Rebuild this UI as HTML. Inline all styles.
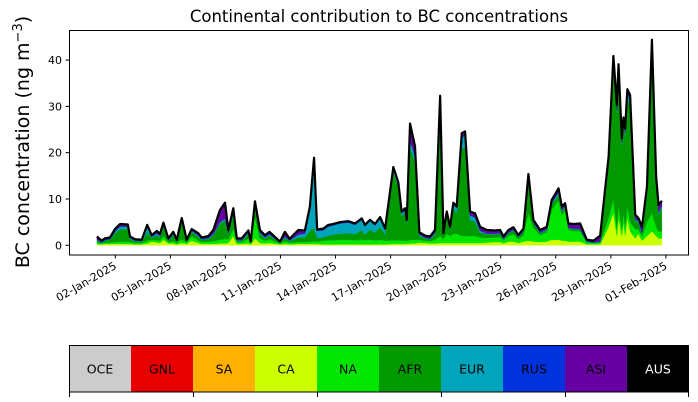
<!DOCTYPE html>
<html><head><meta charset="utf-8"><style>
body{margin:0;background:#fff;}
svg{display:block;font-family:"DejaVu Sans","Liberation Sans",sans-serif;}
</style></head><body>
<svg id="chart" width="698" height="402" viewBox="0 0 698 402">
<text x="379" y="22" font-size="16.5" text-anchor="middle">Continental contribution to BC concentrations</text>
<text transform="translate(29,142) rotate(-90)" font-size="19" text-anchor="middle">BC concentration (ng m<tspan dy="-7" font-size="13">−3</tspan><tspan dy="7">)</tspan></text>
<g id="areas"></g>
<g id="xaxis"></g>
<g id="yaxis"></g>
<rect x="69.5" y="30.5" width="619" height="224.5" fill="none" stroke="#000" stroke-width="1"/>
<g id="legend"></g>
</svg>
<script>
const days=[1.0,1.25,1.44,1.71,2.0,2.26,2.68,2.8,3.07,3.44,3.74,3.98,4.26,4.44,4.62,4.89,5.16,5.35,5.62,5.89,6.16,6.52,6.7,7.07,7.34,7.7,7.98,8.16,8.43,8.62,8.89,9.25,9.38,9.61,9.88,10.15,10.4,10.97,11.24,11.5,11.97,12.33,12.6,12.83,13.0,13.33,13.6,13.88,14.24,14.7,15.06,15.43,15.6,15.88,16.15,16.43,16.7,17.15,17.42,17.6,17.79,17.88,18.06,18.33,18.57,18.88,19.15,19.42,19.7,19.88,20.06,20.24,20.42,20.6,20.88,21.06,21.33,21.6,21.88,22.24,22.7,22.97,23.15,23.42,23.69,23.96,24.24,24.51,24.78,25.15,25.51,25.78,26.15,26.33,26.51,26.69,26.97,27.33,27.69,28.06,28.42,28.88,29.14,29.33,29.42,29.6,29.69,29.78,29.9,30.05,30.33,30.5,30.7,30.97,31.24,31.47,31.6,31.78];
const ca=[.3,.2,.3,.3,.3,.3,.3,.3,.2,.2,.4,.8,.6,.5,1.2,.4,.4,.2,.5,.3,1.0,.5,.3,.3,.3,.4,.4,.5,2.0,.3,.3,.4,.2,1.5,.5,.4,.5,.2,.3,.2,.3,.3,.3,.3,.3,.2,.2,.2,.2,.2,.2,.2,.2,.2,.2,.2,.2,.3,.3,.3,.3,.3,.4,.4,.6,.5,.4,.4,.5,.5,.5,.5,.5,.5,.5,.5,.5,.5,.5,.6,.7,.7,.4,.8,.8,.5,.8,1.0,.8,.7,.8,1.2,1.2,1.0,1.0,.8,.8,.8,.2,.2,.2,4.0,7.0,2.0,6.0,2.0,5.0,2.0,6.0,3.0,1.5,2.5,1.0,2.0,3.0,2.0,1.5,1.5];
const na=[.3,.2,.3,.3,.4,.5,.5,.4,.3,.3,.6,.4,.5,.5,.8,.3,.5,.3,.8,.3,1.0,.6,.4,.5,.6,.8,1.0,.8,1.5,.4,.4,1.0,.2,4.5,1.0,.6,.8,.2,.6,.4,.4,.4,.5,.6,.5,.8,.9,.9,1.0,1.0,.9,1.0,.9,1.0,.9,1.0,.8,.8,.8,.7,.7,.6,.8,.8,.6,.5,.5,.8,1.5,.8,2.0,1.5,2.0,2.0,1.5,1.5,1.5,1.5,1.2,1.0,1.0,1.1,.6,1.2,1.6,.8,1.4,6.0,3.0,1.5,2.0,6.5,8.5,5.5,6.5,2.5,2.3,2.2,.4,.3,.3,2.0,3.0,1.5,2.5,1.5,2.0,2.0,2.5,2.0,2.0,1.0,1.0,3.0,4.0,2.0,1.5,1.5];
const afr=[.5,.1,.4,.6,2.0,2.7,2.7,.6,.4,.3,1.8,.4,1.1,.8,2.0,.3,1.3,.3,3.7,.2,.9,.8,.5,.6,1.3,3.5,4.0,1.1,3.3,.3,.3,1.1,.1,2.6,1.0,.5,.8,.1,.7,.3,1.0,1.0,2.3,2.9,.8,.7,1.0,1.2,1.3,1.4,1.3,2.1,1.2,2.2,1.6,2.8,1.3,14.6,11.5,5.4,6.1,3.7,19.9,16.8,.9,.5,.4,1.3,29.4,.9,4.1,1.4,5.3,4.5,18.8,19.2,3.4,3.2,1.1,.8,.7,.7,.3,.6,.8,.4,.7,7.6,1.0,.4,.5,1.2,1.2,.8,.8,.4,.4,.4,.1,.1,.2,11.6,29.2,25.1,28.9,18.1,18.9,19.7,23.0,25.3,1.7,1.6,.6,6.3,35.7,9.4,3.8,5.2];
const eur=[.1,.1,.1,.1,.3,.5,.5,.2,.1,.1,1.2,.2,.3,.2,.3,.1,.2,.1,.2,.1,.2,.2,.1,.1,.2,.3,.3,.2,.3,.1,.1,.2,.1,.3,.2,.2,.2,.1,.2,.1,.6,.8,4.5,14,1.5,1.5,1.9,2.0,2.2,2.3,2.0,2.2,1.8,1.8,1.6,1.8,1.0,.8,.6,.5,.5,.5,1.5,1.2,.2,.1,.1,.2,.5,.1,.3,.2,1.0,1.0,2.5,2.5,1.0,.8,.3,.1,.1,.1,.1,.1,.1,.1,.1,.2,.1,.1,.1,.2,.5,.2,.2,.1,.1,.1,.1,0,.1,.5,.5,.5,.5,.5,.5,.5,1.0,1.0,.3,.2,.1,.3,.5,.3,.3,.3];
const rus=[.1,.1,.1,.1,.1,.1,.1,.1,.1,.1,.1,.1,.1,.1,.1,.1,.1,.1,.1,.1,.1,.1,.1,.1,.1,.1,.1,.1,.1,.1,.1,.1,.1,.1,.1,.1,.1,.1,.1,.1,.1,.1,.1,.3,.1,.1,.1,.1,.1,.1,.1,.1,.1,.1,.1,.1,.1,.1,.1,.1,.1,.1,.2,.2,.1,.1,.1,.1,.1,.1,.1,.1,.1,.1,.1,.1,.1,.1,.1,.1,.1,.1,.1,.1,.1,.1,.1,.1,.1,.1,.1,.1,.1,.1,.1,.1,.1,.1,.1,.1,.1,.1,.2,.2,.2,.2,.2,.2,.2,.2,.1,.1,.1,.1,.2,.1,.1,.1];
const asi=[.6,.3,.3,.3,.5,.5,.4,.3,.2,.2,.3,.3,.5,.4,.5,.3,.4,.2,.6,.2,.3,.4,.3,.4,.8,2.5,3.4,.6,.8,.3,.3,.4,.1,.5,.5,.4,.5,.1,1.0,.3,.9,.6,.6,.8,.2,.3,.3,.2,.2,.2,.2,.2,.2,.2,.2,.2,.2,.3,.3,.3,.3,.3,3.5,2.0,.4,.4,.4,.5,.3,.2,.3,.3,.3,.3,.8,.8,.8,.8,.8,.7,.6,.6,.4,.5,.5,.3,.5,.5,.5,.5,.5,.6,.8,.8,.5,.8,.9,1.1,.3,.3,1.2,1.0,1.0,1.0,1.0,.8,1.0,.8,1.0,1.0,1.0,.5,1.2,1.0,1.0,1.0,1.5,1.0];
const layerNames=["CA","NA","AFR","EUR","RUS","ASI"];
const layers=[ca,na,afr,eur,rus,asi];
const layerColors=["#ccff00","#00e600","#009a00","#00a4bb","#0033dd","#6600a0"];
const yTicks=[0,10,20,30,40];
const xTickDays=[2,5,8,11,14,17,20,23,26,29,32];
const xTickLabels=["02-Jan-2025","05-Jan-2025","08-Jan-2025","11-Jan-2025","14-Jan-2025","17-Jan-2025","20-Jan-2025","23-Jan-2025","26-Jan-2025","29-Jan-2025","01-Feb-2025"];
const legendNames=["OCE","GNL","SA","CA","NA","AFR","EUR","RUS","ASI","AUS"];
const legendColors=["#cccccc","#e60000","#ffb000","#ccff00","#00e600","#009a00","#00a4bb","#0033dd","#6600a0","#000000"];

const NS="http://www.w3.org/2000/svg";
function mk(tag,attrs,parent){const e=document.createElementNS(NS,tag);for(const k in attrs)e.setAttribute(k,attrs[k]);parent.appendChild(e);return e;}
const X0=69,X1=689,Y0=255,Y1=30;
const dMin=-0.523,dMax=33.26,vMin=-2.1,vMax=46.5;
const xs=d=>X0+(d-dMin)/(dMax-dMin)*(X1-X0);
const ys=v=>Y0-(v-vMin)/(vMax-vMin)*(Y0-Y1);

const gA=document.getElementById('areas');
let base=days.map(()=>0);
layers.forEach((arr,li)=>{
  const top=base.map((b,i)=>b+arr[i]);
  let d="M"+days.map((t,i)=>xs(t).toFixed(2)+","+ys(top[i]).toFixed(2)).join("L");
  for(let i=days.length-1;i>=0;i--)d+="L"+xs(days[i]).toFixed(2)+","+ys(base[i]).toFixed(2);
  d+="Z";
  const p=mk('path',{d:d,fill:layerColors[li],stroke:layerColors[li],'stroke-width':0.4},gA);
  
  
  base=top;
});
const line=mk('path',{d:"M"+days.map((t,i)=>xs(t).toFixed(2)+","+ys(base[i]).toFixed(2)).join("L"),fill:"none",stroke:"#000",'stroke-width':2.2,'stroke-linejoin':'round'},gA);



const gY=document.getElementById('yaxis');
yTicks.forEach(v=>{
  const y=ys(v);
  const t=mk('line',{x1:X0-3.5,x2:X0,y1:y,y2:y,stroke:"#000"},gY);
  
  
  const l=mk('text',{x:X0-7,y:y+4,'font-size':11,'text-anchor':'end'},gY);
  l.textContent=v;
  
  
});
const gX=document.getElementById('xaxis');
xTickDays.forEach((d,i)=>{
  const x=xs(d);
  const t=mk('line',{x1:x,x2:x,y1:Y0,y2:Y0+3.5,stroke:"#000"},gX);
  
  
  const l=mk('text',{x:x+2,y:Y0+13,'font-size':11,'text-anchor':'end',transform:`rotate(-30 ${x+2} ${Y0+13})`},gX);
  l.textContent=xTickLabels[i];
  
  
});

const gL=document.getElementById('legend');
const LX=69,LW=62,LY=345.5,LH=46.5;
legendNames.forEach((n,i)=>{
  const r=mk('rect',{x:LX+i*LW,y:LY,width:LW,height:LH,fill:legendColors[i]},gL);
  
  
  const t=mk('text',{x:LX+i*LW+LW/2,y:LY+LH/2+4.5,'font-size':12.5,'text-anchor':'middle',fill:n==="AUS"?"#fff":"#000"},gL);
  t.textContent=n;
  
  
});
const fr=mk('rect',{x:LX+0.5,y:LY,width:LW*10-1,height:LH,fill:"none",stroke:"#000"},gL);


for(let k=0;k<=5;k++){
  const x=LX+0.5+k*124-(k===5?1:0);
  const t=mk('line',{x1:x,x2:x,y1:LY+LH,y2:LY+LH+5,stroke:"#000"},gL);
  
  
}
</script>
</body></html>
